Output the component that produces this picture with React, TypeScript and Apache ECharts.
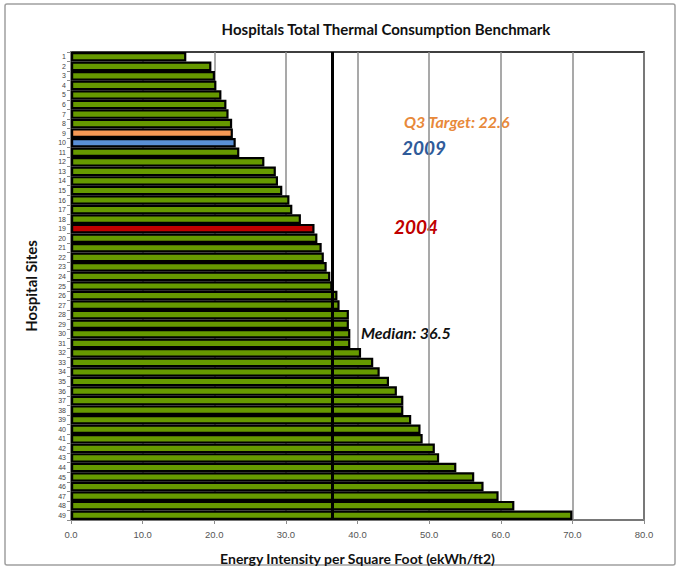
import React, { useEffect, useRef } from "react";
import * as echarts from "echarts";

const sites: string[] = Array.from({ length: 49 }, (_, i) => String(i + 1));
const intensity: number[] = [
  16.1, 19.6, 20.1, 20.3, 21.0, 21.7, 22.0, 22.5, 22.6, 23.0,
  23.5, 27.0, 28.6, 28.9, 29.5, 30.5, 30.9, 32.1, 34.0, 34.4,
  35.0, 35.3, 35.7, 36.2, 36.5, 37.2, 37.5, 38.8, 38.8, 39.0,
  39.0, 40.5, 42.2, 43.1, 44.4, 45.5, 46.4, 46.4, 47.5, 48.8,
  49.1, 50.8, 51.4, 53.8, 56.3, 57.6, 59.7, 61.9, 70.0,
];
const highlightSites: string[] = ["9", "10", "19"];
const highlightColors: string[] = ["#F79A55", "#5A90D6", "#C00000"];
const medianValue = 36.5;
const xTicks: number[] = [0, 10, 20, 30, 40, 50, 60, 70, 80];

const FONT = "Lato, 'Noto Sans', sans-serif";

export default function App() {
  const ref = useRef<HTMLDivElement>(null);
  useEffect(() => {
    document.body.style.margin = "0";
    const chart = echarts.init(ref.current!, null, { renderer: "svg" });
    const data = intensity.map((v, i) => {
      const h = highlightSites.indexOf(sites[i]);
      return {
        value: v,
        itemStyle: { color: h >= 0 ? highlightColors[h] : "#669900" },
      };
    });
    chart.setOption({
      animation: false,
      backgroundColor: "#fff",
      textStyle: { fontFamily: FONT },
      title: {
        text: "Hospitals Total Thermal Consumption Benchmark",
        left: 381,
        textAlign: "center",
        top: 16,
        textStyle: { fontFamily: FONT, fontSize: 15, fontWeight: "bold", color: "#111" },
      },
      grid: {
        left: 71,
        right: 39,
        top: 52,
        bottom: 51,
        show: true,
        borderColor: "#000",
        borderWidth: 1.5,
      },
      xAxis: {
        type: "value",
        min: xTicks[0],
        max: xTicks[xTicks.length - 1],
        interval: 10,
        name: "Energy Intensity per Square Foot (ekWh/ft2)",
        nameLocation: "middle",
        nameGap: 31,
        nameTextStyle: { fontFamily: FONT, fontSize: 14, fontWeight: "bold", color: "#111" },
        axisLine: { show: true, lineStyle: { color: "#8c8c8c", width: 1.5 } },
        axisTick: { show: true, length: 4, lineStyle: { color: "#8c8c8c" } },
        axisLabel: {
          margin: 9,
          fontSize: 9.5,
          color: "#555",
          fontFamily: "'Liberation Sans', Arial, sans-serif",
          formatter: (v: number) => v.toFixed(1),
        },
        splitLine: { show: true, lineStyle: { color: "#8c8c8c", width: 1.5 } },
      },
      yAxis: {
        type: "category",
        data: sites,
        inverse: true,
        name: "Hospital Sites",
        nameLocation: "middle",
        nameGap: 33,
        nameRotate: 90,
        nameTextStyle: { fontFamily: FONT, fontSize: 15, fontWeight: "bold", color: "#111" },
        axisLine: { show: true, lineStyle: { color: "#8c8c8c", width: 1.5 } },
        axisTick: { show: true, length: 4, lineStyle: { color: "#8c8c8c" } },
        axisLabel: {
          interval: 0,
          margin: 5,
          fontSize: 7,
          color: "#444",
          fontFamily: "'Liberation Sans', Arial, sans-serif",
        },
      },
      series: [
        {
          type: "bar",
          data,
          barCategoryGap: "0%",
          itemStyle: { borderColor: "#000", borderWidth: 2.2 },
          markLine: {
            silent: true,
            symbol: ["none", "none"],
            label: { show: false },
            lineStyle: { color: "#000", width: 3, type: "solid" },
            data: [{ xAxis: medianValue }],
          },
        },
      ],
      graphic: [
        {
          type: "rect",
          shape: { x: 5, y: 4, width: 670, height: 561, r: 2 },
          style: { fill: "none", stroke: "#a0a0a0", lineWidth: 1.5 },
          silent: true,
        },
        {
          type: "text",
          x: 404,
          y: 121,
          style: {
            text: "Q3 Target: 22.6",
            fill: "#E8893A",
            font: `italic bold 16px ${FONT}`,
            verticalAlign: "middle",
          },
        },
        {
          type: "text",
          x: 402,
          y: 147,
          style: {
            text: "2009",
            fill: "#2F5B9A",
            font: `italic bold 19px ${FONT}`,
            verticalAlign: "middle",
          },
        },
        {
          type: "text",
          x: 394,
          y: 226,
          style: {
            text: "2004",
            fill: "#C00000",
            font: `italic bold 19px ${FONT}`,
            verticalAlign: "middle",
          },
        },
        {
          type: "text",
          x: 361,
          y: 332,
          style: {
            text: "Median: 36.5",
            fill: "#111",
            font: `italic bold 16px ${FONT}`,
            verticalAlign: "middle",
          },
        },
      ],
    });
    return () => chart.dispose();
  }, []);
  return (
    <div
      ref={ref}
      style={{ position: "absolute", left: 0, top: 0, width: 683, height: 571 }}
    />
  );
}
